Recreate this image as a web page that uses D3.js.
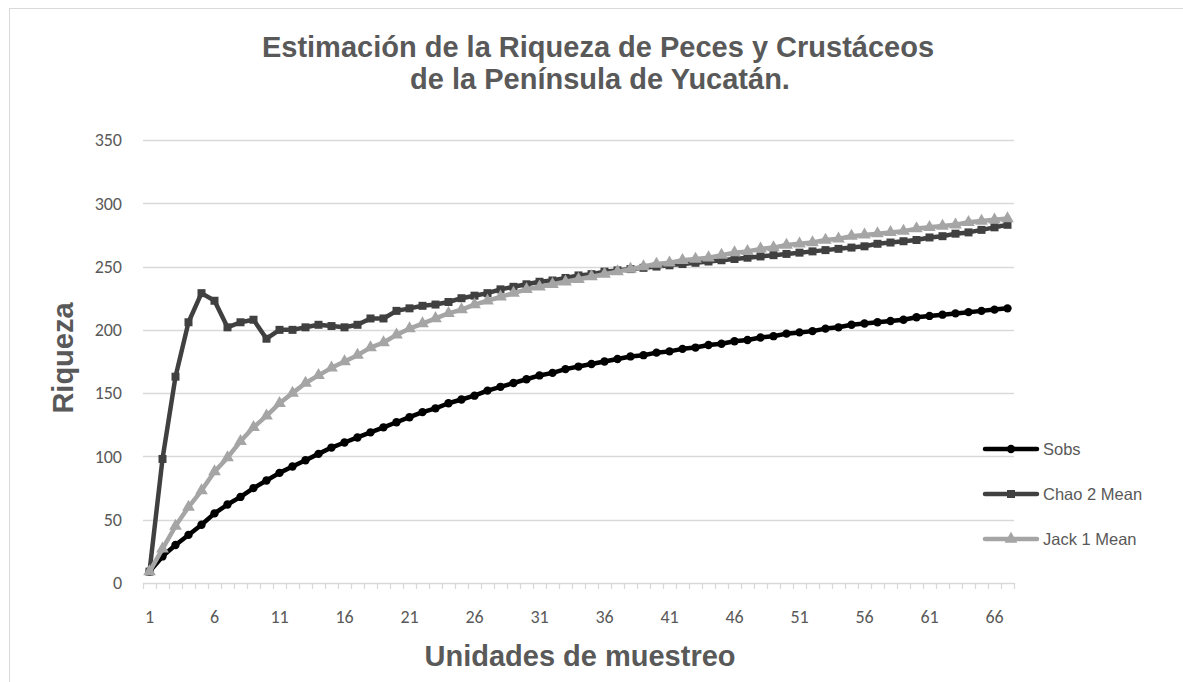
<!DOCTYPE html>
<html>
<head>
<meta charset="utf-8">
<script src="https://cdn.jsdelivr.net/npm/d3@7"></script>
<style>
  body { margin: 0; background: #fff; }
  .tick-label { font-family: Carlito, Lato, sans-serif; font-size: 18px; fill: #595959; }
  .title { font-family: "Liberation Sans", Arial, sans-serif; font-weight: bold; fill: #595959; }
  .legend text { font-family: "Liberation Sans", Arial, sans-serif; font-size: 16.5px; fill: #595959; }
</style>
</head>
<body>
<svg width="1183" height="682"></svg>
<script>
// sampling units 1..67
var units = d3.range(1, 68);

var sobs = [9, 21, 30, 38, 46, 55, 62, 68, 75, 81,
    87, 92, 97, 102, 107, 111, 115, 119, 123, 127,
    131, 135, 138, 142, 145, 148, 152, 155, 158, 161,
    164, 166, 169, 171, 173, 175, 177, 179, 180, 182,
    183, 185, 186, 188, 189, 191, 192, 194, 195, 197,
    198, 199, 201, 202, 204, 205, 206, 207, 208, 210,
    211, 212, 213, 214, 215, 216, 217];

var chao2 = [9, 98, 163, 206, 229, 223, 202, 206, 208, 193,
    200, 200, 202, 204, 203, 202, 204, 209, 209, 215,
    217, 219, 220, 222, 225, 227, 229, 232, 234, 236,
    238, 239, 241, 243, 244, 246, 247, 248, 249, 250,
    251, 252, 253, 254, 255, 256, 257, 258, 259, 260,
    261, 262, 263, 264, 265, 266, 268, 269, 270, 271,
    273, 274, 276, 277, 279, 281, 283];

var jack1 = [9, 27, 45, 60, 73, 88, 99, 112, 123, 132,
    142, 150, 158, 164, 170, 175, 180, 186, 190, 196,
    201, 205, 209, 213, 216, 220, 223, 226, 229, 232,
    234, 236, 238, 240, 242, 244, 246, 248, 250, 252,
    253, 255, 256, 257, 259, 261, 262, 264, 265, 267,
    268, 269, 271, 272, 274, 275, 276, 277, 278, 280,
    281, 282, 283, 285, 286, 287, 288];

var yTicks = [0, 50, 100, 150, 200, 250, 300, 350];
var xLabelEvery = 5;

var seriesNames = ["Sobs", "Chao 2 Mean", "Jack 1 Mean"];

var svg = d3.select("svg");

var plotLeft = 143, plotRight = 1014, plotTop = 140, plotBottom = 583;

var x = d3.scaleBand()
    .domain(units)
    .range([plotLeft, plotRight]);
var y = d3.scaleLinear()
    .domain([0, 350])
    .range([plotBottom, plotTop]);

// chart frame
svg.append("rect")
    .attr("x", 9.5).attr("y", 8.5)
    .attr("width", 1300).attr("height", 800)
    .attr("fill", "none").attr("stroke", "#d9d9d9");

// title
var title = svg.append("text").attr("class", "title")
    .attr("text-anchor", "middle").style("font-size", "29px");
title.append("tspan").attr("x", 598).attr("y", 57).text("Estimación de la Riqueza de Peces y Crustáceos");
title.append("tspan").attr("x", 600).attr("y", 89).text("de la Península de Yucatán.");

// gridlines
svg.append("g").selectAll("line")
    .data(yTicks.slice(1))
    .enter().append("line")
    .attr("x1", plotLeft).attr("x2", plotRight)
    .attr("y1", d => Math.round(y(d)) + 0.5).attr("y2", d => Math.round(y(d)) + 0.5)
    .attr("stroke", "#d9d9d9").attr("stroke-width", 1.3);

// y labels
svg.append("g").selectAll("text")
    .data(yTicks)
    .enter().append("text")
    .attr("class", "tick-label")
    .attr("x", 122).attr("y", d => y(d))
    .attr("dy", "0.35em")
    .attr("text-anchor", "end")
    .text(d => d);

// x axis line and ticks
var gx = svg.append("g");
gx.append("line")
    .attr("x1", plotLeft).attr("x2", plotRight)
    .attr("y1", plotBottom + 0.5).attr("y2", plotBottom + 0.5)
    .attr("stroke", "#d9d9d9").attr("stroke-width", 1.3);
var boundaries = units.map(u => x(u)).concat([plotRight]);
gx.selectAll(".xt")
    .data(boundaries)
    .enter().append("line")
    .attr("class", "xt")
    .attr("x1", d => Math.round(d) + 0.5).attr("x2", d => Math.round(d) + 0.5)
    .attr("y1", plotBottom).attr("y2", plotBottom + 6)
    .attr("stroke", "#d9d9d9").attr("stroke-width", 1.3);
gx.selectAll("text")
    .data(units.filter(u => (u - 1) % xLabelEvery == 0))
    .enter().append("text")
    .attr("class", "tick-label")
    .attr("x", d => x(d) + x.bandwidth() / 2)
    .attr("y", 623)
    .attr("text-anchor", "middle")
    .text(d => d);

// axis titles
svg.append("text").attr("class", "title")
    .attr("x", 580).attr("y", 666)
    .attr("text-anchor", "middle").style("font-size", "29px")
    .text("Unidades de muestreo");
svg.append("text").attr("class", "title")
    .attr("transform", "translate(73,358) rotate(-90)")
    .attr("text-anchor", "middle").style("font-size", "29px")
    .text("Riqueza");

// series
var cx = u => x(u) + x.bandwidth() / 2;
var line = d3.line().x((d, i) => cx(units[i])).y(d => y(d));

var styles = [
    { color: "#000000", symbol: d3.symbolCircle, size: 55 },
    { color: "#404040", symbol: d3.symbolSquare, size: 64 },
    { color: "#a5a5a5", symbol: d3.symbolTriangle, size: 70 }
];
var allSeries = [sobs, chao2, jack1];

allSeries.forEach((s, k) => {
    var st = styles[k];
    var g = svg.append("g");
    g.append("path")
        .attr("d", line(s))
        .attr("fill", "none")
        .attr("stroke", st.color)
        .attr("stroke-width", 4.5)
        .attr("stroke-linejoin", "round")
        .attr("stroke-linecap", "round");
    g.selectAll("path.mk")
        .data(s)
        .enter().append("path")
        .attr("class", "mk")
        .attr("d", d3.symbol().type(st.symbol).size(st.size))
        .attr("transform", (d, i) => "translate(" + cx(units[i]) + "," + y(d) + ")")
        .attr("fill", st.color);
});

// legend
var legend = svg.append("g").attr("class", "legend");
var legendY = [449, 494, 539];
seriesNames.forEach((name, k) => {
    var st = styles[k];
    var gl = legend.append("g").attr("transform", "translate(0," + legendY[k] + ")");
    gl.append("line")
        .attr("x1", 985).attr("x2", 1037)
        .attr("stroke", st.color).attr("stroke-width", 4.5)
        .attr("stroke-linecap", "round");
    gl.append("path")
        .attr("d", d3.symbol().type(st.symbol).size(st.size))
        .attr("transform", "translate(1011,0)")
        .attr("fill", st.color);
    gl.append("text")
        .attr("x", 1043).attr("y", 0).attr("dy", "0.35em")
        .text(name);
});
</script>
</body>
</html>
